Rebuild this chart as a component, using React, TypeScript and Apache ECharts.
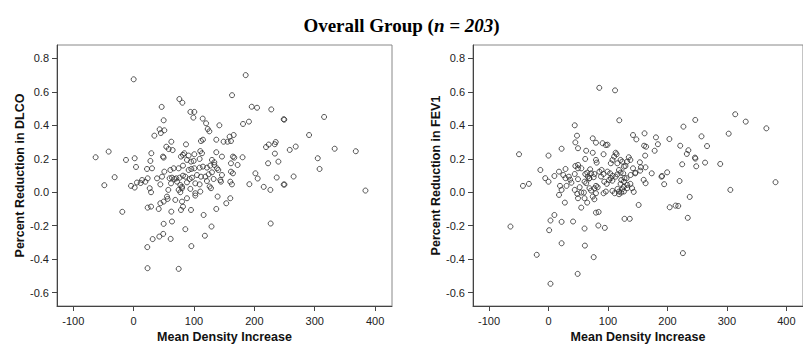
import React, { useEffect, useRef } from 'react';
import * as echarts from 'echarts';

const titleMain = 'Overall Group (';
const titleItalic = 'n = 203';
const xAxisTitle = 'Mean Density Increase';
const yTitleLeft = 'Percent Reduction in DLCO';
const yTitleRight = 'Percent Reduction in FEV1';

const xTicks = [-100, 0, 100, 200, 300, 400];
const yTicks = [-0.6, -0.4, -0.2, 0.0, 0.2, 0.4, 0.6, 0.8];

// [mean density increase, percent reduction in DLCO]
const dlcoPoints: number[][] = [
  [34.3,0.338],[62.4,0.302],[86.7,0.286],[111.5,0.306],[114.8,0.314],[136.9,0.314],[149,0.302],[155.6,0.302],[161.2,0.306],[159,0.332],
  [54.1,0.272],[58,0.258],[64.6,0.252],
  [83.9,0.233],[81.7,0.223],[78.4,0.213],[91.1,0.219],[100.5,0.227],[110.4,0.246],[113.2,0.233],[109.3,0.199],[136.9,0.239],[146.3,0.213],
  [29.3,0.233],[48.6,0.213],[49.7,0.207],
  [27.7,0.187],[88.3,0.193],[95,0.183],[99.4,0.187],[129.7,0.193],[133.6,0.179],[164.5,0.213],[166.7,0.207],[161.2,0.173],[172.2,0.163],
  [22.1,0.139],[30.4,0.143],[50.8,0.123],[60.8,0.133],[66.3,0.143],[74.5,0.143],[81.7,0.159],[91.1,0.133],[95.5,0.139],[100.5,0.143],
  [109.3,0.147],[114.8,0.153],[121.4,0.147],[126.9,0.159],[133.6,0.163],[138,0.143],[140.2,0.133],[161.2,0.123],[164.5,0.113],
  [38.7,0.083],[47,0.093],[59.6,0.083],[63.5,0.087],[67.4,0.079],[70.7,0.083],[76.2,0.087],[81.7,0.099],[85.6,0.093],[92.8,0.079],
  [96.6,0.087],[104.9,0.103],[111.5,0.093],[118.7,0.093],[124.2,0.107],[129.7,0.119],[146.3,0.103],[143.5,0.073],
  [13.9,0.073],[19.4,0.063],[23.2,0.083],[44.2,0.047],[61.9,0.053],[71.8,0.063],[77.3,0.043],[80.1,0.033],[88.3,0.059],[102.1,0.053],
  [109.3,0.047],[121.4,0.067],[132.5,0.079],[144.6,0.063],[160.1,0.063],
  [26.6,0.024],[28.8,0.0],[57.4,0.014],[74.5,0.014],[77.3,0.0],[80.1,0.024],[93.9,0.02],[102.1,-0.006],[110.4,0.004],[125.9,0.034],
  [128.1,0.024],[162.8,0.047],
  [55.2,-0.026],[56.3,-0.04],[44.2,-0.066],[49.7,-0.056],[69,-0.046],[80.1,-0.056],[88.3,-0.036],[102.1,-0.02],[139.1,-0.026],
  [153.4,-0.066],[160.1,-0.036],
  [23.2,-0.092],[28.8,-0.086],[41.5,-0.1],[62.4,-0.116],[81.7,-0.086],[78.4,-0.106],[95,-0.106],[115.9,-0.136],[136.9,-0.1],
  [0,0.675],[185.6,0.70],[75.7,0.557],[80.7,0.535],[163,0.58],[46.4,0.51],[94,0.48],[100.5,0.48],[98.9,0.446],[195.6,0.511],
  [204.4,0.505],[228,0.495],[49.7,0.43],[248.6,0.436],[249.5,0.434],[315.5,0.45],[114.4,0.44],[120,0.412],[181.2,0.408],[191,0.422],
  [142,0.40],[43,0.376],[50.8,0.37],[45,0.354],[122.7,0.378],[125.4,0.364],[165.7,0.342],
  [290.6,0.342],[233.7,0.287],[223.8,0.285],[219.3,0.27],[235.4,0.30],[268.5,0.273],[333,0.26],[258.6,0.253],[368,0.245],[180.4,0.209],
  [234,0.231],[305,0.203],[308,0.139],[239.8,0.183],[222.7,0.173],[201.7,0.113],[205.5,0.082],[191.7,0.048],[215.5,0.032],[226.5,0.014],
  [237,0.088],[248.6,0.046],[249.8,0.046],[265,0.094],[384,0.01],[227,-0.187],
  [-63,0.209],[-41.4,0.243],[1.7,0.203],[-12.7,0.193],[3.9,0.151],[5.5,0.058],[-4.4,0.038],[1.7,0.028],[-48.6,0.042],[-31.5,0.09],
  [-18.8,-0.117],[11.6,0.055],
  [63.5,-0.175],[49.7,-0.189],[49,-0.249],[42.5,-0.265],[31.5,-0.28],[61.3,-0.279],[22.6,-0.328],[23,-0.454],[74.6,-0.458],[95.6,-0.322],
  [85.6,-0.221],[118,-0.26],[129,-0.205],
];

// [mean density increase, percent reduction in FEV1]
const fev1Points: number[][] = [
  [85.4,0.624],[111.9,0.609],[119,0.43],[44.1,0.40],[47.9,0.338],[45.1,0.298],[49.6,0.263],[22,0.26],[-49.6,0.227],[0,0.219],
  [74.4,0.322],[79.8,0.296],[90.9,0.293],[96.4,0.282],[99.2,0.284],[63.3,0.248],[74.4,0.236],[92.6,0.227],[112.9,0.236],[114.5,0.227],
  [79.8,0.193],[81,0.177],[61.7,0.199],[28.6,0.139],[-13.7,0.133],[0,0.063],[-5.5,0.084],[-43,0.038],[-33,0.05],[9.9,0.097],
  [17.6,0.123],[24.8,0.103],[28.6,0.084],[19.3,0.038],[22,0.014],[17.7,-0.016],[27.5,-0.062],[30.3,0.038],[34.2,0.093],[38.5,0.057],
  [45.1,0.157],[49.6,0.143],[44.1,0.109],[49.6,0.078],[52.4,0.03],[48.4,-0.01],[44.1,0.014],[55,-0.002],[59.5,-0.002],[49.6,-0.036],
  [60.6,-0.036],[65,-0.062],[60.6,0.063],[63.4,0.054],[66.1,0.093],[68.9,0.084],[71.6,0.113],[76,0.09],[68.9,0.024],[71.6,0.01],
  [77.2,0.024],[79.9,0.038],[82.6,0.03],[74.4,-0.026],[77.1,-0.042],[79.8,-0.006],[89.3,0.133],[92.6,0.109],[99.2,0.123],[103.6,0.113],
  [93.7,0.063],[98,0.05],[101.9,0.073],[107.4,0.069],[92.6,-0.006],[96.4,0.004],[107.4,0.008],[111.2,-0.006],[112.9,0.093],[115.7,0.107],
  [118.5,0.133],[121.2,0.117],[122.3,0.073],[126.8,0.063],[121.2,0.193],[124,0.183],[126.8,0.153],[115.7,0.173],[124,0.018],[126.8,0.004],
  [314,0.466],[331.7,0.422],[366.4,0.382],[246.8,0.432],[226.9,0.392],[303,0.35],[161.5,0.352],[142.1,0.342],[147.7,0.316],[180.7,0.328],
  [203.3,0.318],[257.3,0.334],[160.8,0.278],[164.1,0.272],[184,0.287],[178.5,0.248],[221.5,0.278],[235.2,0.251],[232.6,0.229],[266.6,0.276],
  [246.3,0.207],[247,0.201],[248.4,0.155],[263.3,0.177],[288.8,0.169],[224.8,0.167],[162.5,0.219],[153.7,0.179],[163.1,0.149],[173.6,0.113],
  [155.4,0.149],[154.2,0.129],[190,0.093],[191,0.097],[199.5,0.119],[194.5,0.048],[220.4,0.067],[305.8,0.014],[381.8,0.06],[237.5,-0.028],
  [151.6,-0.076],[203.8,-0.09],[213.7,-0.08],[218.2,-0.082],[146,0.113],[142.1,0.143],[137.7,0.193],[135,0.209],[132.2,0.183],[129.4,0.157],
  [125.6,0.113],[127.8,0.084],[121.2,0.05],[126.8,0.033],[132.2,0.024],[137.7,0.05],[140.5,0.024],[143.3,0.002],[118.5,0.004],[122.3,-0.002],
  [160,0.074],[163.3,0.054],[138.1,0.103],[145.8,0.117],
  [61.8,0.109],[65.1,0.117],[70,0.137],[77.2,0.109],[85.5,0.123],[88.3,0.094],[104.8,0.084],[107.6,0.098],[104.8,0.173],[107.6,0.193],
  [110.3,0.213],[118.6,-0.012],[132.4,0.044],[131.3,0.084],[55.2,0.143],[49.7,0.163],[68.4,0.082],[115.9,0.02],[36.4,0.075],
  [-64,-0.205],[-19.8,-0.374],[3.3,-0.547],[1.1,-0.227],[3.3,-0.169],[9.9,-0.136],[22,-0.177],[22,-0.305],[41.3,-0.175],[49,-0.488],
  [60.6,-0.217],[61.2,-0.319],[76,-0.388],[83.8,-0.199],[94.7,-0.213],[79.8,-0.122],[84.3,-0.118],[55,-0.092],[127.8,-0.159],
  [136.7,-0.159],[234.2,-0.153],[226,-0.364],
];

const FONT = "'Liberation Sans', Arial, sans-serif";

function makeX(gridIndex: number) {
  return {
    type: 'value',
    gridIndex,
    min: -127,
    max: 428,
    name: xAxisTitle,
    nameLocation: 'middle',
    nameGap: 24,
    nameTextStyle: { fontFamily: FONT, fontWeight: 'bold', fontSize: 12.5, color: '#111' },
    axisLine: { show: true, onZero: false, lineStyle: { color: '#444', width: 1 } },
    axisTick: { show: true, customValues: xTicks, length: 5, lineStyle: { color: '#444' } },
    axisLabel: { customValues: xTicks, color: '#222', fontSize: 11, fontFamily: FONT, margin: 9 },
    splitLine: { show: false },
  };
}

function makeY(gridIndex: number, name: string, gap: number) {
  return {
    type: 'value',
    gridIndex,
    min: -0.68,
    max: 0.88,
    name,
    nameLocation: 'middle',
    nameGap: gap,
    nameTextStyle: { fontFamily: FONT, fontWeight: 'bold', fontSize: 12.5, color: '#111' },
    axisLine: { show: true, onZero: false, lineStyle: { color: '#444', width: 1 } },
    axisTick: { show: true, customValues: yTicks, length: 5, lineStyle: { color: '#444' } },
    axisLabel: {
      customValues: yTicks,
      color: '#222',
      fontSize: 11,
      fontFamily: FONT,
      margin: 8,
      formatter: (v: number) => v.toFixed(1),
    },
    splitLine: { show: false },
  };
}

const pointStyle = {
  color: 'rgba(0,0,0,0)',
  borderColor: '#2a2a2a',
  borderWidth: 1,
};

export default function App() {
  const ref = useRef<HTMLDivElement>(null);
  useEffect(() => {
    if (!ref.current) return;
    const chart = echarts.init(ref.current, null, { renderer: 'svg' });
    chart.setOption({
      animation: false,
      backgroundColor: '#ffffff',
      title: {
        text: `{b|${titleMain}}{i|${titleItalic}}{b|)}`,
        left: 'center',
        top: 11,
        textStyle: {
          rich: {
            b: { fontFamily: "'Liberation Serif', 'Times New Roman', serif", fontWeight: 'bold', fontSize: 19, color: '#000' },
            i: { fontFamily: "'Liberation Serif', 'Times New Roman', serif", fontWeight: 'bold', fontStyle: 'italic', fontSize: 19, color: '#000' },
          },
        },
      },
      grid: [
        { left: 57, top: 45, width: 335, height: 261, show: true, borderColor: '#888', borderWidth: 1, backgroundColor: 'transparent' },
        { left: 473, top: 45, width: 336, height: 261, show: true, borderColor: '#888', borderWidth: 1, backgroundColor: 'transparent' },
      ],
      xAxis: [makeX(0), makeX(1)],
      yAxis: [makeY(0, yTitleLeft, 30), makeY(1, yTitleRight, 31)],
      series: [
        {
          type: 'scatter',
          xAxisIndex: 0,
          yAxisIndex: 0,
          data: dlcoPoints,
          symbol: 'circle',
          symbolSize: 5,
          itemStyle: pointStyle,
          silent: true,
        },
        {
          type: 'scatter',
          xAxisIndex: 1,
          yAxisIndex: 1,
          data: fev1Points,
          symbol: 'circle',
          symbolSize: 5,
          itemStyle: pointStyle,
          silent: true,
        },
      ],
    });
    return () => chart.dispose();
  }, []);
  return (
    <div
      ref={ref}
      style={{ position: 'fixed', left: 0, top: 0, width: 803, height: 352, background: '#fff' }}
    />
  );
}
